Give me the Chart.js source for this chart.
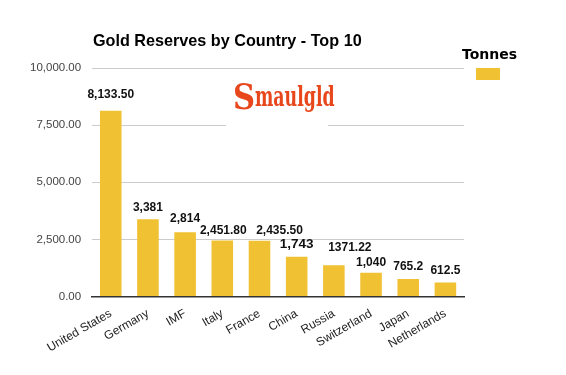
<!DOCTYPE html>
<html>
<head>
<meta charset="utf-8">
<script src="https://cdn.jsdelivr.net/npm/chart.js@4/dist/chart.umd.min.js"></script>
<style>
  html, body { margin: 0; padding: 0; background: #fff; }
  #wrap { width: 566px; height: 375px; }
</style>
</head>
<body>
<div id="wrap"><canvas id="chartGold"></canvas></div>
<script>
var countries = ['United States', 'Germany', 'IMF', 'Italy', 'France', 'China', 'Russia', 'Switzerland', 'Japan', 'Netherlands'];
var tonnes = [8133.5, 3381, 2814, 2451.8, 2435.5, 1743, 1371.22, 1040, 765.2, 612.5];
var valueLabels = ['8,133.50', '3,381', '2,814', '2,451.80', '2,435.50', '1,743', '1371.22', '1,040', '765.2', '612.5'];
var yTicks = [0, 2500, 5000, 7500, 10000];

var gold = 'rgb(240, 193, 50)';

// value labels over the bars
var barLabels = {
    id: 'barLabels',
    afterDatasetsDraw: function(chart) {
        var ctx = chart.ctx;
        var meta = chart.getDatasetMeta(0);
        // the labels in the original are not all placed the same, nudge a few [dx, dy]
        var nudge = { 0: [0, 16], 2: [0, 14], 3: [1, 10], 4: [20, 10], 6: [16, 17], 7: [0, 10] };
        ctx.save();
        ctx.fillStyle = '#111';
        ctx.textAlign = 'center';
        ctx.textBaseline = 'middle';
        meta.data.forEach(function(bar, i) {
            // China label is drawn bigger in the original
            ctx.font = (countries[i] === 'China' ? 'bold 13.5px' : 'bold 12px') + ' "Liberation Sans", Arial, sans-serif';
            var n = nudge[i] || [0, 12];
            ctx.fillText(valueLabels[i], bar.x + n[0], bar.y - n[1]);
        });
        ctx.restore();
    }
};

// title, logo and legend drawn by hand
var decorations = {
    id: 'decorations',
    afterDraw: function(chart) {
        var ctx = chart.ctx;
        ctx.save();
        // title
        ctx.fillStyle = '#000';
        ctx.font = 'bold 16.2px "Liberation Sans", Arial, sans-serif';
        ctx.textAlign = 'left';
        ctx.textBaseline = 'middle';
        ctx.fillText('Gold Reserves by Country - Top 10', 93, 42);

        // logo box hides the gridline
        ctx.fillStyle = '#fff';
        ctx.fillRect(226, 78, 102, 52);
        ctx.fillStyle = '#e8461b';
        ctx.textBaseline = 'alphabetic';
        ctx.save();
        ctx.translate(233, 109);
        ctx.scale(0.85, 1);
        ctx.font = 'bold 36px "DejaVu Serif", serif';
        ctx.fillText('S', 0, 0);
        ctx.restore();
        ctx.save();
        ctx.translate(255, 106);
        ctx.scale(0.62, 1);
        ctx.font = 'bold 28px "DejaVu Serif", serif';
        ctx.fillText('maulgld', 0, 0);
        ctx.restore();

        // legend
        ctx.fillStyle = '#000';
        ctx.font = 'bold 14px "DejaVu Sans", sans-serif';
        ctx.textAlign = 'left';
        ctx.textBaseline = 'middle';
        ctx.fillText('Tonnes', 462, 55);
        ctx.fillStyle = gold;
        ctx.fillRect(476, 68, 24, 12);
        ctx.restore();
    }
};

var ctx = document.getElementById('chartGold');
var goldChart = new Chart(ctx, {
    type: 'bar',
    data: {
        labels: countries,
        datasets: [{
            label: 'Tonnes',
            data: tonnes,
            backgroundColor: gold,
            borderWidth: 0,
            categoryPercentage: 1.0,
            barPercentage: 0.58
        }]
    },
    options: {
        responsive: true,
        maintainAspectRatio: false,
        animation: false,
        layout: {
            padding: { top: 68, right: 102, left: 19, bottom: 10 }
        },
        plugins: {
            legend: { display: false },
            title: { display: false },
            tooltip: { enabled: false }
        },
        scales: {
            x: {
                grid: { display: false, drawTicks: false },
                border: { color: '#333', width: 1.5 },
                ticks: {
                    color: '#222',
                    font: { family: '"Liberation Sans", Arial, sans-serif', size: 12 },
                    minRotation: 30,
                    maxRotation: 30,
                    padding: 10,
                    autoSkip: false
                }
            },
            y: {
                min: 0,
                max: 10000,
                afterBuildTicks: function(axis) {
                    axis.ticks = yTicks.map(function(v) { return { value: v }; });
                },
                grid: { color: '#cccccc', drawTicks: false },
                border: { display: false },
                ticks: {
                    color: '#444',
                    padding: 11,
                    font: { family: '"Liberation Sans", Arial, sans-serif', size: 11.5 },
                    callback: function(v) {
                        return v.toLocaleString('en-US', { minimumFractionDigits: 2, maximumFractionDigits: 2 });
                    }
                }
            }
        }
    },
    plugins: [barLabels, decorations]
});
</script>
</body>
</html>
